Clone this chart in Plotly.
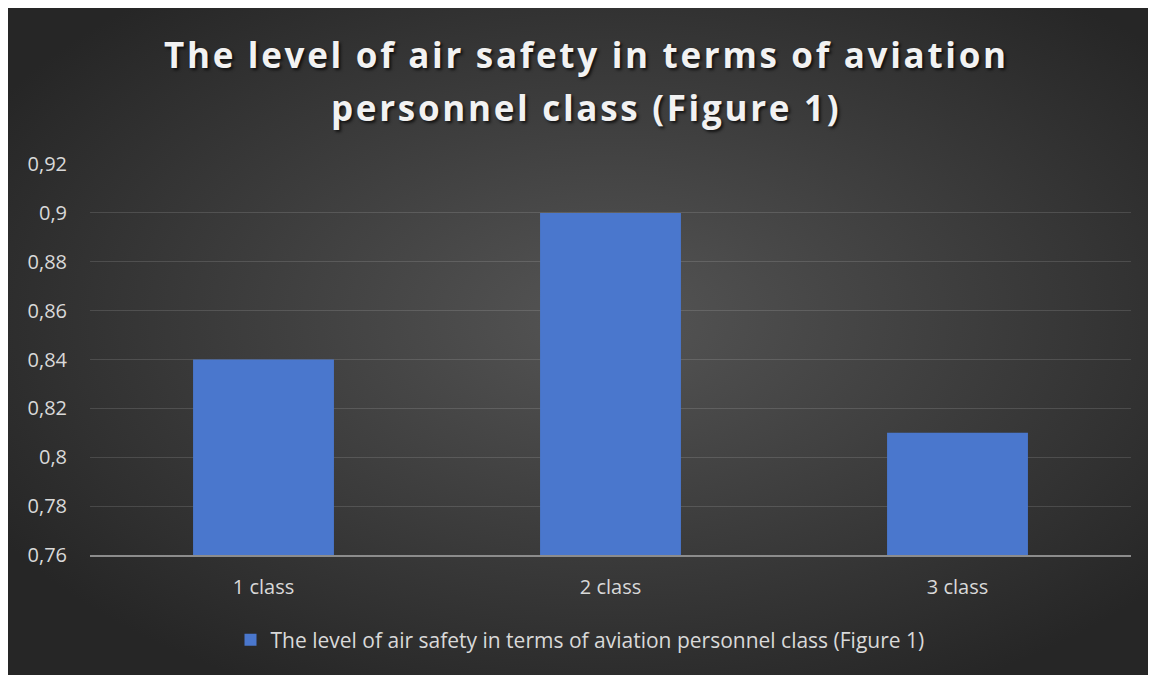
import base64
import plotly.graph_objects as go

categories = ["1 class", "2 class", "3 class"]
values = [0.84, 0.90, 0.81]
series_name = "The level of air safety in terms of aviation personnel class (Figure 1)"
title_lines = ["The level of air safety in terms of aviation", "personnel class (Figure 1)"]
tick_vals = [0.76, 0.78, 0.80, 0.82, 0.84, 0.86, 0.88, 0.90, 0.92]
tick_text = ["0,76", "0,78", "0,8", "0,82", "0,84", "0,86", "0,88", "0,9", "0,92"]

W, H = 1156, 675
L, R, T, B = 82, 1123, 156, 547
pw, ph = R - L, B - T

svg = f'''<svg xmlns="http://www.w3.org/2000/svg" width="{W}" height="{H}" viewBox="0 0 {W} {H}" preserveAspectRatio="none">
<defs><radialGradient id="g" cx="52%" cy="46%" r="62%" fx="52%" fy="46%">
<stop offset="0%" stop-color="#555555"/><stop offset="100%" stop-color="#262626"/></radialGradient></defs>
<rect width="{W}" height="{H}" fill="url(#g)"/></svg>'''
src = "data:image/svg+xml;base64," + base64.b64encode(svg.encode()).decode()

fig = go.Figure()
fig.add_trace(go.Bar(
    x=categories, y=values, name=series_name, width=0.406,
    marker=dict(color="#4a77cd", line=dict(width=0)),
    showlegend=True,
))

title_font = dict(family="Open Sans", size=35, color="#f2f2f2",
                  weight="bold", shadow="2px 2px 3px rgba(0,0,0,0.7)")
title_y = [46, 99]
annotations = [
    dict(text=f'<span style="letter-spacing:2.7px">{line}</span>', xref="paper", yref="paper",
         x=(W / 2 - L) / pw, y=(B - yy) / ph, xanchor="center", yanchor="middle",
         showarrow=False, font=title_font)
    for line, yy in zip(title_lines, title_y)
]

fig.update_layout(
    width=W, height=H,
    margin=dict(l=L, r=W - R, t=T, b=H - B, autoexpand=False),
    paper_bgcolor="#2b2b2b",
    plot_bgcolor="rgba(0,0,0,0)",
    separators=", ",
    images=[dict(source=src, xref="paper", yref="paper",
                 x=-L / pw, y=B / ph, sizex=W / pw, sizey=H / ph,
                 sizing="stretch", xanchor="left", yanchor="top", layer="below")],
    annotations=annotations,
    xaxis=dict(showgrid=False, showline=True, linecolor="#8c8c8c", linewidth=2,
               ticks="", tickfont=dict(family="Open Sans", size=20, color="#d9d9d9"),
               ticklabelstandoff=13),
    yaxis=dict(range=[0.76, 0.92], tickvals=tick_vals, ticktext=tick_text,
               showgrid=True, gridcolor="rgba(255,255,255,0.13)", gridwidth=1,
               zeroline=False, showline=False, ticks="",
               tickfont=dict(family="Open Sans", size=20, color="#d9d9d9"),
               ticklabelstandoff=22),
    legend=dict(orientation="h", x=(572 - L) / pw, xanchor="center", y=(B - 632) / ph, yanchor="middle",
                font=dict(family="Open Sans", size=21, color="#d9d9d9"),
                bgcolor="rgba(0,0,0,0)", itemwidth=30),
    bargap=0.594,
)

fig.write_html("out.html")
